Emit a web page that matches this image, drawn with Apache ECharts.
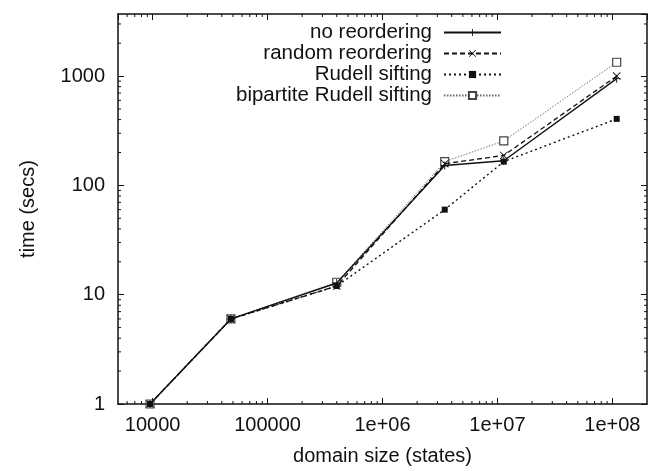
<!DOCTYPE html>
<html>
<head>
<meta charset="utf-8">
<script src="https://cdn.jsdelivr.net/npm/echarts@6/dist/echarts.min.js"></script>
<style>
  html, body { margin: 0; padding: 0; background: #fff; }
  #chart { width: 652px; height: 471px; }
</style>
</head>
<body>
<div id="chart"></div>
<script type="text/javascript">
    // domain sizes (states)
    var domainSizes = [9500, 48000, 400000, 3480000, 11350000, 109000000];
    // times (secs)
    var noReordering = [1, 6, 12.8, 152, 168, 948];
    var randomReordering = [1, 6, 12, 158, 188, 1000];
    var rudellSifting = [1, 6, 12, 60, 165, 406];
    var bipartiteSifting = [1, 6, 13, 165, 255, 1339];

    var seriesNames = ['no reordering', 'random reordering', 'Rudell sifting', 'bipartite Rudell sifting'];

    var xTickValues = [1e4, 1e5, 1e6, 1e7, 1e8];
    var xTickLabels = ['10000', '100000', '1e+06', '1e+07', '1e+08'];
    var yTickValues = [1, 10, 100, 1000];
    var yTickLabels = ['1', '10', '100', '1000'];

    // minor ticks (gnuplot style, 2..9 in every decade)
    var minorMantissas = [2, 3, 4, 5, 6, 7, 8, 9];
    var xMinorDecades = [1e3, 1e4, 1e5, 1e6, 1e7];
    var yMinorDecades = [1, 10, 100, 1000];

    var xMin = 5000, xMax = 2e8;
    var yMin = 1, yMax = 3700;

    function pairs(xs, ys) {
        return xs.map(function (x, i) { return [x, ys[i]]; });
    }

    function lookupLabel(values, labels) {
        return function (v) {
            for (var i = 0; i < values.length; i++) {
                if (Math.abs(Math.log10(v) - Math.log10(values[i])) < 1e-6) return labels[i];
            }
            return '';
        };
    }

    var xMinor = [], yMinor = [];
    xMinorDecades.forEach(function (d) {
        minorMantissas.forEach(function (m) {
            var v = m * d;
            if (v > xMin && v < xMax) xMinor.push([v, 1]);
        });
    });
    yMinorDecades.forEach(function (d) {
        minorMantissas.forEach(function (m) {
            var v = m * d;
            if (v > yMin && v < yMax) yMinor.push([xMin * 2, v]);
        });
    });

    var plusPath = 'path://M4.4,0H5.6V4.4H10V5.6H5.6V10H4.4V5.6H0V4.4H4.4Z';
    var crossPath = 'path://M0,0.8L0.8,0L5,4.2L9.2,0L10,0.8L5.8,5L10,9.2L9.2,10L5,5.8L0.8,10L0,9.2L4.2,5Z';

    var font = '"Liberation Sans", Arial, Helvetica, sans-serif';
    var ink = '#111';

    var myChart = echarts.init(document.getElementById('chart'));

    var option = {
        animation: false,
        backgroundColor: '#fff',
        textStyle: { fontFamily: font },
        grid: { left: 118, right: 5, top: 14, bottom: 62 },
        legend: {
            orient: 'vertical',
            right: 145,
            top: 17,
            align: 'right',
            itemWidth: 57,
            itemHeight: 9,
            itemGap: 0,
            data: seriesNames,
            textStyle: { fontSize: 20.5, lineHeight: 21, color: ink, fontFamily: font, padding: [0, 7, 0, 0] }
        },
        xAxis: [
            {
                type: 'log',
                min: xMin,
                max: xMax,
                name: 'domain size (states)',
                nameLocation: 'middle',
                nameGap: 42,
                nameTextStyle: { fontSize: 20, color: ink },
                axisLine: { lineStyle: { color: ink, width: 1.5 } },
                axisTick: { inside: true, length: 6, lineStyle: { color: ink } },
                axisLabel: {
                    fontSize: 20, color: ink, margin: 11,
                    showMinLabel: false, showMaxLabel: false,
                    formatter: lookupLabel(xTickValues, xTickLabels)
                },
                splitLine: { show: false }
            },
            {
                type: 'log',
                min: xMin,
                max: xMax,
                position: 'top',
                axisLine: { lineStyle: { color: ink, width: 1.5 } },
                axisTick: { inside: true, length: 6, lineStyle: { color: ink } },
                axisLabel: { show: false },
                splitLine: { show: false }
            }
        ],
        yAxis: [
            {
                type: 'log',
                min: yMin,
                max: yMax,
                name: 'time (secs)',
                nameLocation: 'middle',
                nameGap: 80,
                nameTextStyle: { fontSize: 20, color: ink },
                axisLine: { lineStyle: { color: ink, width: 1.5 } },
                axisTick: { inside: true, length: 6, lineStyle: { color: ink } },
                axisLabel: {
                    fontSize: 20, color: ink, margin: 13,
                    showMinLabel: true, showMaxLabel: false,
                    formatter: lookupLabel(yTickValues, yTickLabels)
                },
                splitLine: { show: false }
            },
            {
                type: 'log',
                min: yMin,
                max: yMax,
                position: 'right',
                axisLine: { lineStyle: { color: ink, width: 1.5 } },
                axisTick: { inside: true, length: 6, lineStyle: { color: ink } },
                axisLabel: { show: false },
                splitLine: { show: false }
            }
        ],
        series: [
            {
                name: 'no reordering',
                type: 'line',
                data: pairs(domainSizes, noReordering),
                symbol: plusPath,
                symbolSize: 8,
                itemStyle: { color: ink },
                lineStyle: { color: ink, width: 1.4, type: 'solid' },
                z: 5
            },
            {
                name: 'random reordering',
                type: 'line',
                data: pairs(domainSizes, randomReordering),
                symbol: crossPath,
                symbolSize: 8,
                itemStyle: { color: ink },
                lineStyle: { color: ink, width: 1.3, type: [5, 3] },
                z: 4
            },
            {
                name: 'Rudell sifting',
                type: 'line',
                data: pairs(domainSizes, rudellSifting),
                symbol: 'rect',
                symbolSize: 6,
                itemStyle: { color: ink },
                lineStyle: { color: ink, width: 1.4, type: [2, 3] },
                z: 3
            },
            {
                name: 'bipartite Rudell sifting',
                type: 'line',
                data: pairs(domainSizes, bipartiteSifting),
                symbol: 'rect',
                symbolSize: 8,
                itemStyle: { color: '#fff', borderColor: '#444', borderWidth: 1.2 },
                lineStyle: { color: '#666', width: 0.9, type: [1.5, 1.5] },
                z: 2
            },
            {
                name: 'x minor ticks',
                type: 'custom',
                silent: true,
                data: xMinor,
                renderItem: function (params, api) {
                    var cs = params.coordSys;
                    var p = api.coord([api.value(0), yMin]);
                    var bottom = cs.y + cs.height;
                    return {
                        type: 'group',
                        children: [
                            { type: 'line', shape: { x1: p[0], y1: bottom, x2: p[0], y2: bottom - 3 }, style: { stroke: ink, lineWidth: 1 } },
                            { type: 'line', shape: { x1: p[0], y1: cs.y, x2: p[0], y2: cs.y + 3 }, style: { stroke: ink, lineWidth: 1 } }
                        ]
                    };
                }
            },
            {
                name: 'y minor ticks',
                type: 'custom',
                silent: true,
                data: yMinor,
                renderItem: function (params, api) {
                    var cs = params.coordSys;
                    var p = api.coord([xMin * 2, api.value(1)]);
                    var right = cs.x + cs.width;
                    return {
                        type: 'group',
                        children: [
                            { type: 'line', shape: { x1: cs.x, y1: p[1], x2: cs.x + 3, y2: p[1] }, style: { stroke: ink, lineWidth: 1 } },
                            { type: 'line', shape: { x1: right, y1: p[1], x2: right - 3, y2: p[1] }, style: { stroke: ink, lineWidth: 1 } }
                        ]
                    };
                }
            }
        ]
    };
    myChart.setOption(option);
</script>
</body>
</html>
